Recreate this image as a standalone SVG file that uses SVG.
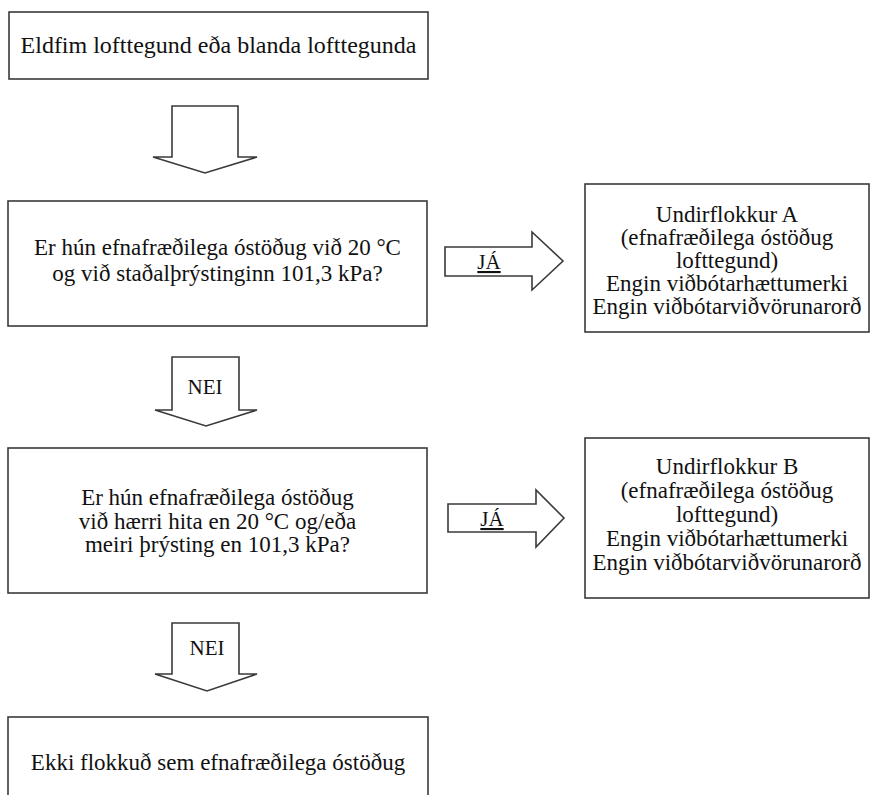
<svg xmlns="http://www.w3.org/2000/svg" width="876" height="795" viewBox="0 0 876 795">
<style>
.box{fill:#fff;stroke:#3a3a3a;stroke-width:1.6}
.arr{fill:#fff;stroke:#3a3a3a;stroke-width:1.6;stroke-linejoin:miter}
.t{font-family:'Liberation Serif','Times New Roman',serif;font-size:23px;fill:#111;text-anchor:middle}
.lbl{font-family:'Liberation Serif','Times New Roman',serif;font-size:21px;fill:#111;text-anchor:middle}
</style>
<rect width="876" height="795" fill="#fff"/>
<g id="connectors">
<polygon class="arr" points="172,106 238,106 238,157 257,157 205,173 153,157 172,157"/>
<g id="arrow-ja-1"><polygon class="arr" points="445,247 532,247 532,232 563,261 532,290 532,276 445,276"/><text class="lbl" x="489" y="269" text-decoration="underline">JÁ</text></g>
<g id="arrow-nei-1"><polygon class="arr" points="172,357 239,357 239,410 257,410 206,426 155,410 172,410"/><text class="lbl" x="205" y="394">NEI</text></g>
<g id="arrow-ja-2"><polygon class="arr" points="448,504 536,504 536,490 564,518 536,547 536,532 448,532"/><text class="lbl" x="492" y="526" text-decoration="underline">JÁ</text></g>
<g id="arrow-nei-2"><polygon class="arr" points="172,623 239,623 239,674 257,674 207,691 155,674 172,674"/><text class="lbl" x="207" y="655">NEI</text></g>
</g>
<g id="start">
<rect class="box" x="9" y="12" width="419" height="67"/>
<text class="t" style="font-size:24px" x="218.5" y="53">Eldfim lofttegund eða blanda lofttegunda</text>
</g>
<g id="q1">
<rect class="box" x="8" y="201" width="419" height="125"/>
<text class="t" x="217.5" y="255">Er hún efnafræðilega óstöðug við 20 °C</text>
<text class="t" x="217.5" y="281">og við staðalþrýstinginn 101,3 kPa?</text>
</g>
<g id="catA">
<rect class="box" x="585" y="184" width="284" height="148"/>
<text class="t" x="727" y="222">Undirflokkur A</text>
<text class="t" x="727" y="245">(efnafræðilega óstöðug</text>
<text class="t" x="727" y="268">lofttegund)</text>
<text class="t" x="727" y="291">Engin viðbótarhættumerki</text>
<text class="t" x="727" y="314">Engin viðbótarviðvörunarorð</text>
</g>
<g id="q2">
<rect class="box" x="8" y="448" width="419" height="145"/>
<text class="t" x="217.5" y="505">Er hún efnafræðilega óstöðug</text>
<text class="t" x="217.5" y="529">við hærri hita en 20 °C og/eða</text>
<text class="t" x="217.5" y="552">meiri þrýsting en 101,3 kPa?</text>
</g>
<g id="catB">
<rect class="box" x="585" y="438" width="284" height="160"/>
<text class="t" x="727" y="474">Undirflokkur B</text>
<text class="t" x="727" y="498">(efnafræðilega óstöðug</text>
<text class="t" x="727" y="522">lofttegund)</text>
<text class="t" x="727" y="546">Engin viðbótarhættumerki</text>
<text class="t" x="727" y="570">Engin viðbótarviðvörunarorð</text>
</g>
<g id="end">
<rect class="box" x="8" y="717" width="420" height="90"/>
<text class="t" x="218" y="770">Ekki flokkuð sem efnafræðilega óstöðug</text>
</g>
</svg>
